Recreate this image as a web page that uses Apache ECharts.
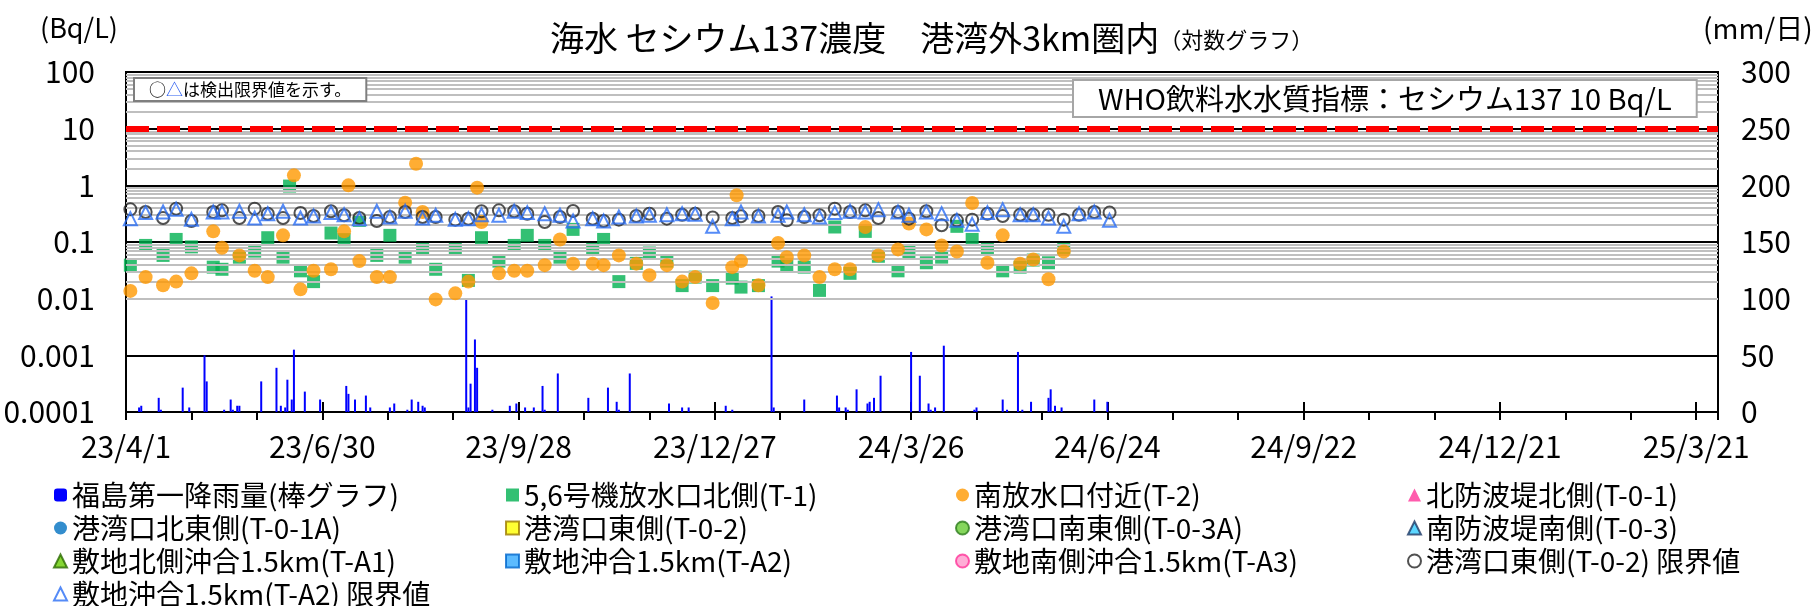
<!DOCTYPE html>
<html>
<head>
<meta charset="utf-8">
<script src="https://cdn.jsdelivr.net/npm/echarts@6/dist/echarts.min.js"></script>
<style>
html, body { margin: 0; padding: 0; background: #fff; }
#chart { width: 1816px; height: 606px; }
</style>
</head>
<body>
<div id="chart"></div>
<script>
// 採取日（定期＋臨時）
const sampleDates = [
  '2023-04-03','2023-04-10','2023-04-18','2023-04-24','2023-05-01','2023-05-11','2023-05-15','2023-05-23','2023-05-30','2023-06-05',
  '2023-06-12','2023-06-15','2023-06-17','2023-06-20','2023-06-26','2023-07-04','2023-07-10','2023-07-12','2023-07-17','2023-07-25',
  '2023-07-31','2023-08-07','2023-08-12','2023-08-15','2023-08-21','2023-08-30','2023-09-05','2023-09-09','2023-09-11','2023-09-19',
  '2023-09-26','2023-10-02','2023-10-10','2023-10-17','2023-10-23','2023-11-01','2023-11-06','2023-11-13','2023-11-21','2023-11-27',
  '2023-12-05','2023-12-12','2023-12-18','2023-12-26','2024-01-04','2024-01-06','2024-01-08','2024-01-16','2024-01-25','2024-01-29',
  '2024-02-06','2024-02-13','2024-02-20','2024-02-27','2024-03-05','2024-03-11','2024-03-20','2024-03-25','2024-04-02','2024-04-09',
  '2024-04-16','2024-04-23','2024-04-30','2024-05-07','2024-05-15','2024-05-21','2024-05-28','2024-06-04','2024-06-11','2024-06-18',
  '2024-06-25'
]

// 5,6号機放水口北側(T-1) Bq/L
const t1Values = [
  0.039, 0.087, 0.058, 0.111, 0.082, 0.036, 0.033, 0.054, 0.069, 0.119,
  0.054, 0.97, null, 0.031, 0.020, 0.144, 0.110, null, 0.241, 0.058,
  0.131, 0.054, null, 0.074, 0.033, 0.074, 0.021, null, 0.119, 0.046,
  0.087, 0.131, 0.087, 0.054, 0.167, 0.074, 0.111, 0.020, 0.042, 0.064,
  0.046, 0.017, 0.024, 0.017, 0.023, null, 0.016, 0.017, 0.046, 0.039,
  0.036, 0.014, 0.184, 0.028, 0.154, 0.056, 0.031, 0.068, 0.043, 0.054,
  0.189, 0.111, 0.074, 0.031, 0.036, 0.048, 0.043, 0.074, null, null,
  null
]

// 南放水口付近(T-2) Bq/L
const t2Values = [
  0.0137, 0.024, 0.0172, 0.020, 0.028, 0.154, 0.079, 0.058, 0.031, 0.024,
  0.131, null, 1.5, 0.0146, 0.031, 0.033, 0.154, 1.0, 0.046, 0.024,
  0.024, 0.494, 2.41, 0.338, 0.0097, 0.0124, 0.020, 0.91, 0.225, 0.028,
  0.031, 0.031, 0.039, 0.111, 0.0415, 0.0415, 0.039, 0.058, 0.0415, 0.026,
  0.039, 0.020, 0.024, 0.0084, 0.036, 0.667, 0.046, 0.0172, 0.096, 0.054,
  0.058, 0.024, 0.033, 0.033, 0.184, 0.058, 0.074, 0.211, 0.167, 0.087,
  0.068, 0.488, 0.043, 0.131, 0.0415, 0.049, 0.022, 0.068, null, null,
  null
]

// 港湾口東側(T-0-2) 検出限界値
const limitT02 = [
  0.377, 0.338, 0.265, 0.388, 0.235, 0.338, 0.362, 0.265, 0.388, 0.316,
  0.265, null, null, 0.325, 0.288, 0.348, 0.296, null, 0.265, 0.235,
  0.276, 0.338, null, 0.276, 0.276, 0.248, 0.258, null, 0.348, 0.362,
  0.348, 0.316, 0.225, 0.276, 0.352, 0.258, 0.235, 0.248, 0.288, 0.316,
  0.258, 0.303, 0.316, 0.27, 0.265, null, 0.284, 0.288, 0.338, 0.241,
  0.276, 0.296, 0.388, 0.338, 0.362, 0.265, 0.338, 0.258, 0.348, 0.197,
  0.241, 0.248, 0.316, 0.288, 0.303, 0.303, 0.303, 0.248, 0.303, 0.338,
  0.33
]

// 敷地沖合1.5km(T-A2) 検出限界値
const limitTA2 = [
  0.258, 0.33, 0.338, 0.377, 0.251, 0.338, 0.338, 0.348, 0.265, 0.316,
  0.348, null, null, 0.265, 0.288, 0.33, 0.303, null, 0.258, 0.348,
  0.276, 0.348, null, 0.265, 0.296, 0.251, 0.258, null, 0.303, 0.296,
  0.348, 0.33, 0.316, 0.296, 0.235, 0.258, 0.235, 0.276, 0.288, 0.296,
  0.303, 0.316, 0.31, 0.189, 0.258, null, 0.338, 0.288, 0.296, 0.338,
  0.303, 0.276, 0.33, 0.348, 0.338, 0.372, 0.338, 0.296, 0.338, 0.316,
  0.241, 0.205, 0.33, 0.372, 0.303, 0.303, 0.265, 0.189, 0.316, 0.338,
  0.241
]

// 福島第一 降雨量 mm/日
const rainDates = [
  '2023-04-07','2023-04-08','2023-04-16','2023-04-17','2023-04-27','2023-04-30','2023-05-07','2023-05-08','2023-05-16','2023-05-19',
  '2023-05-20','2023-05-22','2023-05-23','2023-06-02','2023-06-09','2023-06-11','2023-06-13','2023-06-14','2023-06-16','2023-06-17',
  '2023-06-22','2023-06-29','2023-07-11','2023-07-12','2023-07-15','2023-07-20','2023-07-22','2023-07-31','2023-08-02','2023-08-08',
  '2023-08-10','2023-08-13','2023-08-15','2023-08-16','2023-09-04','2023-09-05','2023-09-06','2023-09-08','2023-09-09','2023-09-16',
  '2023-09-24','2023-09-27','2023-10-01','2023-10-05','2023-10-09','2023-10-10','2023-10-16','2023-10-30','2023-11-08','2023-11-12',
  '2023-11-13','2023-11-18','2023-12-06','2023-12-12','2023-12-15','2024-01-01','2024-01-04','2024-01-22','2024-01-23','2024-02-06',
  '2024-02-21','2024-02-22','2024-02-25','2024-02-26','2024-03-01','2024-03-06','2024-03-07','2024-03-09','2024-03-12','2024-03-26',
  '2024-03-30','2024-04-03','2024-04-04','2024-04-06','2024-04-10','2024-04-24','2024-04-25','2024-05-07','2024-05-09','2024-05-14',
  '2024-05-16','2024-05-20','2024-05-28','2024-05-29','2024-05-31','2024-06-03','2024-06-18','2024-06-24'
]
const rainValues = [
  4, 5.5, 12.5, 2, 21.5, 4, 50, 27, 2, 11,
  2, 5.5, 5.5, 27, 39, 5.5, 4, 28.5, 11, 55,
  18, 11, 23, 16, 11, 14.5, 4, 4, 7.5, 2,
  11, 9, 5.5, 4, 100, 4, 25, 64, 39, 2,
  5.5, 7.5, 4, 4, 23, 2, 34, 12.5, 21.5, 9,
  2, 34, 7.5, 4, 4, 5.5, 2, 102, 4, 11,
  14.5, 4, 4, 2, 20, 7.5, 9, 12.5, 32, 53,
  32, 7.5, 2, 4, 58.5, 2, 4, 11, 2, 53,
  2, 9, 12.5, 20, 5.5, 4, 11, 9
]

const WHO_LIMIT = 10
const FONT = '"Noto Sans CJK JP", "Noto Sans", sans-serif'
const START = Date.UTC(2023, 3, 1)

function dayNum(s) {
  const p = s.split('-')
  return (Date.UTC(+p[0], p[1] - 1, +p[2]) - START) / 864e5
}

function fmtDate(v) {
  const d = new Date(START + v * 864e5)
  return (d.getUTCFullYear() % 100) + '/' + (d.getUTCMonth() + 1) + '/' + d.getUTCDate()
}

function pairs(dates, vals) {
  let out = []
  for (let i = 0; i < dates.length; i++) {
    if (vals[i] != null) out.push([dayNum(dates[i]), vals[i]])
  }
  return out
}

// 対数目盛の補助線 (2..9 x 10^n)
let minorLines = []
for (let e = -4; e < 2; e++) {
  for (let m = 2; m <= 9; m++) minorLines.push({ yAxis: +(m * Math.pow(10, e)).toPrecision(2) })
}

function emptySeries(name, symbol, fill, border, size) {
  return {
    name: name, type: 'scatter', data: [], symbol: symbol, symbolSize: size || 10,
    itemStyle: { color: fill, borderColor: border, borderWidth: border ? 1.5 : 0 }
  }
}

const legendText = { fontSize: 28, fontFamily: FONT, color: '#000', lineHeight: 28 }
function legendCol(left, names) {
  return {
    orient: 'vertical', left: left, top: 481, height: 140, itemGap: 5, padding: 0,
    itemWidth: 13, itemHeight: 13, selectedMode: false,
    textStyle: legendText, data: names
  }
}

let option = {
  animation: false,
  backgroundColor: '#fff',
  title: {
    text: '{a|海水 セシウム137濃度　港湾外3km圏内}{b|（対数グラフ）}',
    left: 545, top: 16,
    textStyle: {
      fontWeight: 'normal',
      rich: {
        a: { fontSize: 34, fontWeight: 'normal', fontFamily: FONT, color: '#000' },
        b: { fontSize: 22, fontWeight: 'normal', fontFamily: FONT, color: '#000', padding: [4, 0, 0, 0] }
      }
    }
  },
  grid: {
    left: 126, right: 98, top: 72, bottom: 194,
    show: true, borderColor: '#000', borderWidth: 2, backgroundColor: '#fff',
    containLabel: false, outerBoundsMode: 'none'
  },
  legend: [
    legendCol(53, ['福島第一降雨量(棒グラフ)', '港湾口北東側(T-0-1A)', '敷地北側沖合1.5km(T-A1)', '敷地沖合1.5km(T-A2) 限界値']),
    legendCol(505, ['5,6号機放水口北側(T-1)', '港湾口東側(T-0-2)', '敷地沖合1.5km(T-A2)']),
    legendCol(955, ['南放水口付近(T-2)', '港湾口南東側(T-0-3A)', '敷地南側沖合1.5km(T-A3)']),
    legendCol(1407, ['北防波堤北側(T-0-1)', '南防波堤南側(T-0-3)', '港湾口東側(T-0-2) 限界値'])
  ],
  xAxis: [
    {
      type: 'value', min: 0, max: 730, interval: 30, position: 'bottom',
      axisLine: { lineStyle: { color: '#000', width: 2 } },
      axisTick: { length: 8, lineStyle: { color: '#000', width: 2 } },
      splitLine: { show: false },
      axisLabel: {
        margin: 20, fontSize: 30, fontFamily: FONT, color: '#000',
        formatter: function(v) { return v % 90 === 0 ? fmtDate(v) : '' }
      }
    },
    {
      type: 'value', min: 0, max: 730, interval: 90, position: 'bottom',
      axisLine: { show: false },
      axisTick: { inside: true, length: 10, lineStyle: { color: '#000', width: 2 } },
      axisLabel: { show: false }, splitLine: { show: false }
    }
  ],
  yAxis: [
    {
      type: 'log', logBase: 10, min: 0.0001, max: 100, position: 'left',
      axisLine: { show: true, lineStyle: { color: '#000', width: 2 } },
      axisTick: { show: false },
      splitLine: { show: true, lineStyle: { color: '#000', width: 2 } },
      axisLabel: {
        margin: 31, fontSize: 30, fontFamily: FONT, color: '#000',
        formatter: function(v) { return String(+(+v).toPrecision(1)) }
      }
    },
    {
      type: 'value', min: 0, max: 300, interval: 50, position: 'right',
      axisLine: { show: true, lineStyle: { color: '#000', width: 2 } },
      axisTick: { show: false }, splitLine: { show: false },
      axisLabel: { margin: 23, fontSize: 30, fontFamily: FONT, color: '#000' }
    }
  ],
  graphic: [
    { type: 'text', left: 40, top: 14, style: { text: '(Bq/L)', font: '27px ' + FONT, fill: '#000' } },
    { type: 'text', left: 1703, top: 14, style: { text: '(mm/日)', font: '28px ' + FONT, fill: '#000' } },
    {
      type: 'text', left: 133, top: 77, z: 100,
      style: {
        text: '{k|○}{t|△}は検出限界値を示す。',
        font: '17px ' + FONT, fill: '#000',
        backgroundColor: '#fff', borderColor: '#7f7f7f', borderWidth: 2,
        padding: [2, 14, 2, 14],
        rich: { k: { fill: '#000', font: '17px ' + FONT }, t: { fill: '#2a5cf0', font: '17px ' + FONT } }
      }
    },
    {
      type: 'text', left: 1072, top: 79, z: 100,
      style: {
        text: 'WHO飲料水水質指標：セシウム137 10 Bq/L',
        font: '29px ' + FONT, fill: '#000',
        backgroundColor: '#fff', borderColor: '#a6a6a6', borderWidth: 2,
        padding: [3, 24, 3, 24]
      }
    }
  ],
  series: [
    {
      name: 'grid', type: 'line', data: [], z: 1, silent: true,
      markLine: {
        silent: true, symbol: ['none', 'none'], label: { show: false },
        lineStyle: { color: '#bfbfbf', width: 1.8, type: 'solid' },
        data: minorLines
      }
    },
    {
      name: '福島第一降雨量(棒グラフ)', type: 'bar', yAxisIndex: 1, barWidth: 2,
      data: pairs(rainDates, rainValues), itemStyle: { color: '#0000ff' }, z: 2
    },
    {
      name: 'who', type: 'line', data: [], z: 3, silent: true,
      markLine: {
        silent: true, symbol: ['none', 'none'], label: { show: false },
        lineStyle: { color: '#ff0000', width: 6, type: [23, 8] },
        data: [{ yAxis: WHO_LIMIT }]
      }
    },
    {
      name: '5,6号機放水口北側(T-1)', type: 'scatter', symbol: 'rect', symbolSize: 13, z: 4,
      data: pairs(sampleDates, t1Values), itemStyle: { color: '#00b050' }
    },
    {
      name: '南放水口付近(T-2)', type: 'scatter', symbol: 'circle', symbolSize: 14, z: 5,
      data: pairs(sampleDates, t2Values), itemStyle: { color: '#ff9900' }
    },
    {
      name: '港湾口東側(T-0-2) 限界値', type: 'scatter', symbol: 'circle', symbolSize: 12, z: 6,
      data: pairs(sampleDates, limitT02),
      itemStyle: { color: 'rgba(255,255,255,0)', borderColor: '#262626', borderWidth: 2 }
    },
    {
      name: '敷地沖合1.5km(T-A2) 限界値', type: 'scatter', symbol: 'triangle', symbolSize: 13, z: 7,
      data: pairs(sampleDates, limitTA2),
      itemStyle: { color: 'rgba(255,255,255,0)', borderColor: '#2a6ef5', borderWidth: 2 }
    },
    emptySeries('北防波堤北側(T-0-1)', 'triangle', '#ff3399', null),
    emptySeries('港湾口北東側(T-0-1A)', 'circle', '#0070c0', null),
    emptySeries('港湾口東側(T-0-2)', 'rect', '#ffff00', '#9c7a00'),
    emptySeries('港湾口南東側(T-0-3A)', 'circle', '#66cc33', '#2a7a1a'),
    emptySeries('南防波堤南側(T-0-3)', 'triangle', '#33ccff', '#1f3864'),
    emptySeries('敷地北側沖合1.5km(T-A1)', 'triangle', '#66cc00', '#2a6a00'),
    emptySeries('敷地沖合1.5km(T-A2)', 'rect', '#33aaff', '#0066cc'),
    emptySeries('敷地南側沖合1.5km(T-A3)', 'circle', '#ff99cc', '#ff3399')
  ]
}

var myChart = echarts.init(document.getElementById('chart'), null, { renderer: 'canvas' })
myChart.setOption(option)
</script>
</body>
</html>
